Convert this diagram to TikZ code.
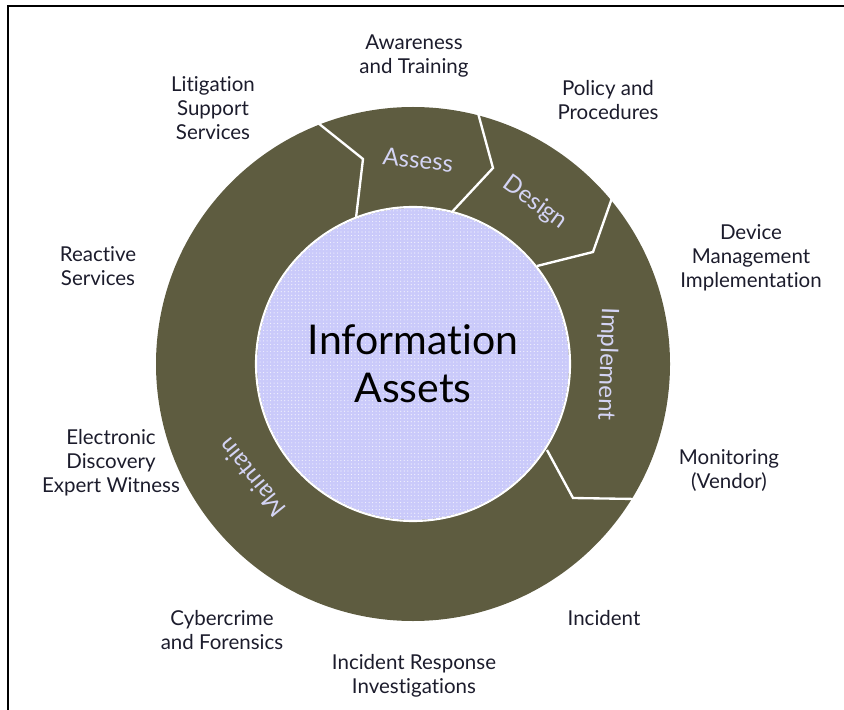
\documentclass[tikz,border=0pt]{standalone}
\usepackage{fontspec}
\setmainfont{Lato}[Ligatures=NoCommon]
\usetikzlibrary{patterns}

\definecolor{ringolive}{RGB}{94,92,64}
\definecolor{corelav}{RGB}{202,202,250}
\definecolor{ringtext}{RGB}{212,212,244}
\definecolor{labelink}{RGB}{28,28,44}

\tikzset{
outer label/.style={align=center,text=labelink,inner sep=0pt,
  font=\fontsize{17.5}{20.5}\selectfont},
ring label/.style={text=ringtext,inner sep=0pt,
  font=\fontsize{20.5}{22}\selectfont},
divider/.style={draw=white,line width=2pt,line join=miter},
}

\begin{document}
\begin{tikzpicture}[x=0.03cm,y=-0.03cm]
\useasboundingbox (0,0) rectangle (844,710);
% frame, open at the right and at the bottom
\draw[line width=1.6pt] (8,710) -- (8,6) -- (844,6);

\coordinate (c) at (413,364);
\fill[ringolive] (c) circle[radius=257];
\fill[corelav] (c) circle[radius=156];
\fill[pattern=dots,pattern color=white!80!corelav] (c) circle[radius=156];
\draw[white,line width=1.8pt] (c) circle[radius=157];

% dividers between the phases
\foreach \name/\a/\b/\d in {
  am/{(318,123)}/{(363,159)}/{(356,218)},
  ad/{(478,113)}/{(493,168)}/{(452,212)},
  di/{(612,198)}/{(593,252)}/{(537,266)},
  im/{(547,450)}/{(573,498)}/{(636,499)}} {
\draw[divider] \a -- \b -- \d;
}

\node[align=center,inner sep=0pt,font=\fontsize{35}{41}\selectfont]
  (core) at (c) {Information\\Assets};

% phase names on the ring
\node[ring label,rotate=-6] (assess) at (418,160) {Assess};
\node[ring label,rotate=-36] (design) at (535,203) {Design};
\node[ring label,rotate=-92] (implement) at (607,364) {Implement};
\node[ring label,rotate=129] (maintain) at (252,478) {Maintain};

% services round the ring
\node[outer label] (awareness) at (414,56) {Awareness\\and Training};
\node[outer label] (litigation) at (213,108) {Litigation\\Support\\Services};
\node[outer label] (policy) at (608,100) {Policy and\\Procedures};
\node[outer label] (device) at (751,258) {Device\\Management\\Implementation};
\node[outer label] (reactive) at (98,266) {Reactive\\Services};
\node[outer label] (monitoring) at (729,471) {Monitoring\\(Vendor)};
\node[outer label] (discovery) at (111,463) {Electronic\\Discovery\\Expert Witness};
\node[outer label] (incident) at (604,618) {Incident};
\node[outer label] (cybercrime) at (222,630) {Cybercrime\\and Forensics};
\node[outer label] (response) at (414,676) {Incident Response\\Investigations};
\end{tikzpicture}
\end{document}
